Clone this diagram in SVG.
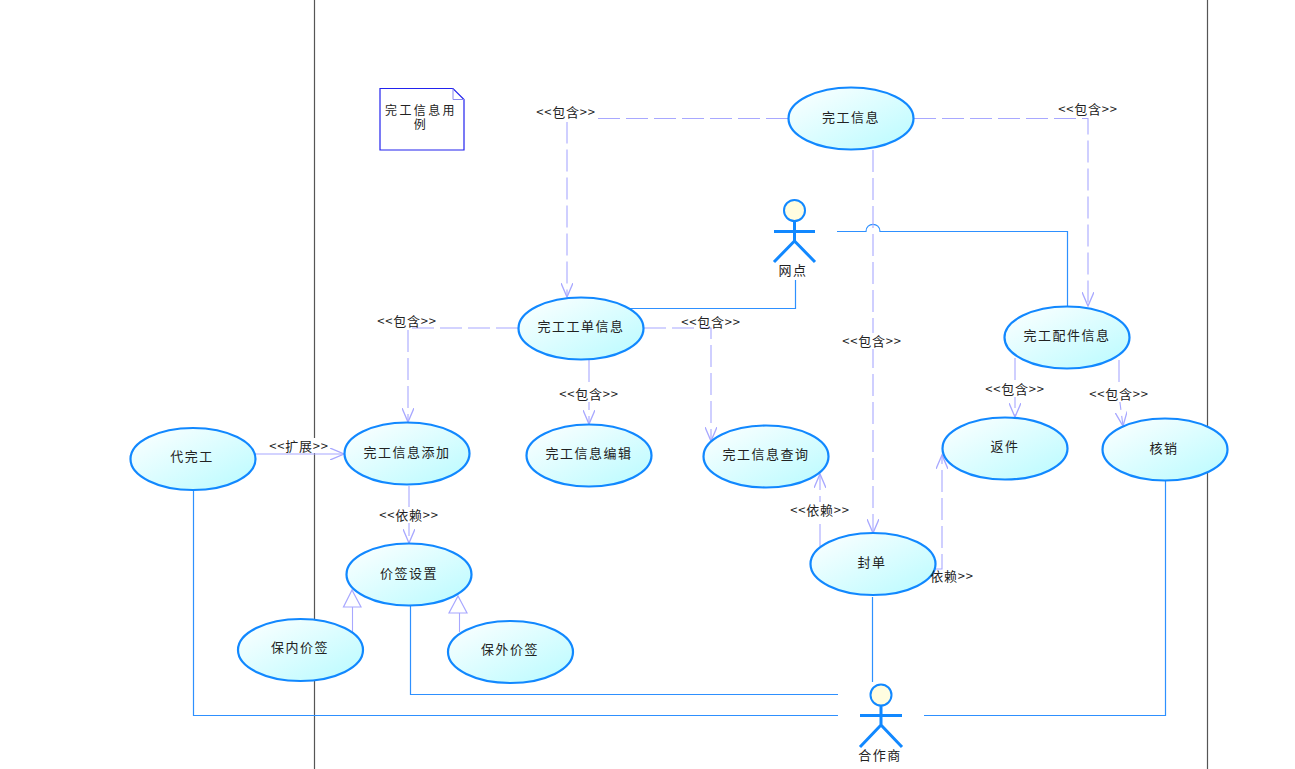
<svg xmlns="http://www.w3.org/2000/svg" width="1295" height="769" viewBox="0 0 1295 769">
<style>
text{font-family:"Noto Sans CJK SC","Liberation Sans",sans-serif;font-size:13px;fill:#222;text-anchor:middle;letter-spacing:1.5px}
#labels text{letter-spacing:.8px}
#note text{font-family:"Liberation Sans","Noto Sans CJK SC",sans-serif;font-size:12px;letter-spacing:2.4px}
.u{fill:url(#g);stroke:#1188ff;stroke-width:2.2}
.d{fill:none;stroke:#a8a8ff;stroke-width:1.1;stroke-dasharray:22 6}
.s{fill:none;stroke:#a8a8ff;stroke-width:1.1}
.l{fill:none;stroke:#2e90ff;stroke-width:1.2}
.a{fill:none;stroke:#1188ff;stroke-width:3}
.h{fill:#fffde0;stroke:#1188ff;stroke-width:2}
.lb{fill:#fff}
.frame{stroke:#555;stroke-width:1.2;fill:none}
</style>
<defs>
<linearGradient id="g" x1="0" y1="0" x2="1" y2="1"><stop offset="0" stop-color="#fff"/><stop offset="1" stop-color="#b8fbff"/></linearGradient>
<marker id="o" markerWidth="16" markerHeight="12" refX="14" refY="6" orient="auto" markerUnits="userSpaceOnUse" viewBox="0 0 16 12"><path d="M0 0L14 6L0 12" fill="none" stroke="#a8a8ff" stroke-width="1.3"/></marker>
</defs>
<g id="frame"><path class="frame" d="M314.500 0V769M1207.500 0V769"/></g>
<g id="connectors">
<path class="l" d="M193.500 490V715.500H838M410.500 606V694.500H838M630 308.500H795.500V280M872.500 597V682M924 715.500H1165.500V481M1067.500 306V231.500H880C880 222 866 222 866 231.500H837"/>
<path class="d" d="M788 118.500H567V297" marker-end="url(#o)"/>
<path class="d" d="M914 118.500H1088V306" marker-end="url(#o)"/>
<path class="d" d="M873 150V533" marker-end="url(#o)"/>
<path class="d" d="M518 328H408V422" marker-end="url(#o)"/>
<path class="d" d="M644 328H711V441" marker-end="url(#o)"/>
<path class="d" d="M589 360V424" marker-end="url(#o)"/>
<path class="d" d="M1015 358V417" marker-end="url(#o)"/>
<path class="d" d="M1119 360V395L1123 426" marker-end="url(#o)"/>
<path class="s" d="M255 454H344" marker-end="url(#o)"/>
<path class="d" d="M409 486V543" marker-end="url(#o)"/>
<path class="d" d="M820 546V474" marker-end="url(#o)"/>
<path class="d" d="M935 569H942V455" marker-end="url(#o)"/>
<path class="s" d="M352.500 632V607M459.500 632V613"/>
<path d="M352 590L343.500 607H361Z" fill="#fff" stroke="#a8a8ff" stroke-width="1.200"/>
<path d="M458 596L449 613H467Z" fill="#fff" stroke="#a8a8ff" stroke-width="1.200"/>
</g>
<g id="note">
<path d="M380 88.500H453L464 99.500V150H380Z" fill="#fff" stroke="#2222ee" stroke-width="1.200"/>
<path d="M453 88.500V99.500H464" fill="none" stroke="#8888ee"/>
<text x="421" y="115">完工信息用<tspan x="421" dy="14">例</tspan></text>
</g>
<g id="uc-info"><ellipse class="u" cx="851" cy="118.500" rx="62.500" ry="31"/><text x="851" y="122">完工信息</text></g>
<g id="uc-order"><ellipse class="u" cx="581" cy="328.500" rx="62.500" ry="31"/><text x="581" y="331">完工工单信息</text></g>
<g id="uc-parts"><ellipse class="u" cx="1067" cy="337.500" rx="62.500" ry="31"/><text x="1067" y="340">完工配件信息</text></g>
<g id="uc-add"><ellipse class="u" cx="407" cy="453.500" rx="62.500" ry="31"/><text x="407" y="457">完工信息添加</text></g>
<g id="uc-edit"><ellipse class="u" cx="589" cy="455.500" rx="62.500" ry="31"/><text x="589" y="458">完工信息编辑</text></g>
<g id="uc-query"><ellipse class="u" cx="766" cy="456.500" rx="62.500" ry="31"/><text x="766" y="459">完工信息查询</text></g>
<g id="uc-return"><ellipse class="u" cx="1005" cy="448.500" rx="62.500" ry="31"/><text x="1005" y="451">返件</text></g>
<g id="uc-cancel"><ellipse class="u" cx="1165" cy="449.500" rx="62.500" ry="31"/><text x="1164" y="453">核销</text></g>
<g id="uc-proxy"><ellipse class="u" cx="193" cy="459" rx="62.500" ry="31"/><text x="192" y="461">代完工</text></g>
<g id="uc-seal"><ellipse class="u" cx="873" cy="564" rx="62.500" ry="31"/><text x="872" y="567">封单</text></g>
<g id="uc-price"><ellipse class="u" cx="409" cy="574.500" rx="62.500" ry="31"/><text x="409" y="578">价签设置</text></g>
<g id="uc-in"><ellipse class="u" cx="300.500" cy="650" rx="62.500" ry="31"/><text x="300" y="652">保内价签</text></g>
<g id="uc-out"><ellipse class="u" cx="510.500" cy="652" rx="62.500" ry="31"/><text x="510" y="654">保外价签</text></g>
<g id="actor-site">
<circle class="h" cx="794.500" cy="210.500" r="10.500"/>
<path class="a" d="M794.500 221V241M774 231.500H815M794.500 241L774 262M794.500 241L815 262"/>
<text x="793" y="275">网点</text>
</g>
<g id="actor-partner">
<circle class="h" cx="881" cy="695" r="10.500"/>
<path class="a" d="M881 705V725M860 715.500H902M881 725L860 747M881 725L902 747"/>
<text x="880" y="760">合作商</text>
</g>
<g id="labels">
<rect class="lb" x="537" y="104" width="59" height="18"/><text x="566" y="117">&lt;&lt;包含&gt;&gt;</text>
<rect class="lb" x="1059" y="101" width="59" height="15"/><text x="1088" y="114">&lt;&lt;包含&gt;&gt;</text>
<rect class="lb" x="843" y="333" width="59" height="16"/><text x="872" y="346">&lt;&lt;包含&gt;&gt;</text>
<rect class="lb" x="378" y="313" width="59" height="14"/><text x="407" y="326">&lt;&lt;包含&gt;&gt;</text>
<rect class="lb" x="682" y="314" width="59" height="13"/><text x="711" y="327">&lt;&lt;包含&gt;&gt;</text>
<rect class="lb" x="560" y="386" width="59" height="16"/><text x="589" y="399">&lt;&lt;包含&gt;&gt;</text>
<rect class="lb" x="986" y="381" width="59" height="16"/><text x="1015" y="394">&lt;&lt;包含&gt;&gt;</text>
<rect class="lb" x="1090" y="386" width="59" height="16"/><text x="1119" y="399">&lt;&lt;包含&gt;&gt;</text>
<rect class="lb" x="270" y="438" width="59" height="15"/><text x="299" y="451">&lt;&lt;扩展&gt;&gt;</text>
<rect class="lb" x="380" y="507" width="59" height="16"/><text x="409" y="520">&lt;&lt;依赖&gt;&gt;</text>
<rect class="lb" x="791" y="502" width="59" height="16"/><text x="820" y="515">&lt;&lt;依赖&gt;&gt;</text>
<text x="952" y="581">依赖&gt;&gt;</text>
</g>
</svg>
